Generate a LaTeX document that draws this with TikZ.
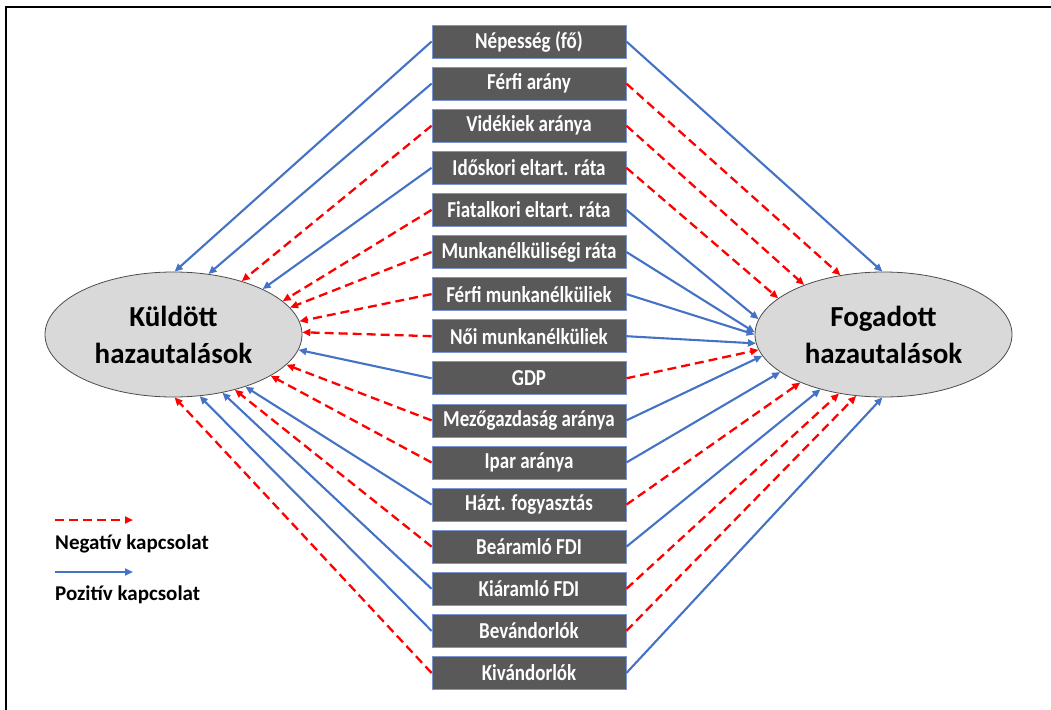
\documentclass[tikz,border=0pt]{standalone}
\usepackage{fontspec}
\setmainfont{Carlito}
\usetikzlibrary{arrows.meta,shapes.geometric}

\definecolor{posblue}{HTML}{4472C4}
\definecolor{negred}{HTML}{FF0000}
\definecolor{boxgray}{HTML}{595959}
\definecolor{boxedge}{HTML}{7B96CF}
\definecolor{ellgray}{HTML}{D9D9D9}

\newcommand{\tallbox}[1]{\scalebox{1}[1.2]{#1}}

\tikzset{
  factor/.style={rectangle, fill=boxgray, draw=boxedge, line width=0.8pt, text=white,
    minimum width=194pt, minimum height=33pt, inner sep=0pt,
    font=\bfseries\fontsize{19}{19}\selectfont},
  target/.style={ellipse, fill=ellgray, draw=black!70, line width=0.8pt, inner sep=0pt,
    minimum width=257pt, minimum height=125pt, align=center,
    font=\bfseries\fontsize{29}{37}\selectfont},
  poslink/.style={draw=posblue, line width=2.1pt, -{Triangle[length=8pt,width=7pt]}},
  neglink/.style={draw=negred, line width=2.3pt, dash pattern=on 9pt off 5pt, -{Triangle[length=8pt,width=7pt]}},
  legtext/.style={anchor=base west, inner sep=0pt, font=\bfseries\fontsize{21}{21}\selectfont}
}

\begin{document}
\begin{tikzpicture}[x=1pt, y=-1pt]
  \useasboundingbox (0,0) rectangle (1051,709);
  \draw [line width=2pt] (6,712) -- (6,7.5) -- (1054,7.5);

  \node [target] (kuld) at (173.5,334.5) {Küldött\\hazautalások};
  \node [target] (fog) at (883.5,334.5) {Fogadott\\hazautalások};

  % factors in the middle column
  \foreach \i/\lbl in {1/Népesség (fő), 2/Férfi arány, 3/Vidékiek aránya, 4/Időskori eltart. ráta,
      5/Fiatalkori eltart. ráta, 6/Munkanélküliségi ráta, 7/Férfi munkanélküliek, 8/Női munkanélküliek,
      9/GDP, 10/Mezőgazdaság aránya, 11/Ipar aránya, 12/Házt. fogyasztás,
      13/Beáramló FDI, 14/Kiáramló FDI, 15/Bevándorlók, 16/Kivándorlók}
    \node [factor] (f\i) at (529, {41.5+42.1*(\i-1)}) {\tallbox{\lbl}};

  % links to the sent remittances
  \foreach \i/\s/\a in {1/poslink/89, 2/poslink/60, 3/neglink/38, 4/poslink/27, 5/neglink/17, 6/neglink/13,
      7/neglink/6, 8/neglink/1, 9/poslink/353, 10/neglink/345, 11/neglink/337, 12/poslink/324,
      13/neglink/318, 14/poslink/310, 15/poslink/293, 16/neglink/271}
    \draw [\s] (f\i.west) -- (kuld.\a);

  % links to the received remittances
  \foreach \i/\s/\a in {1/poslink/91, 2/neglink/126, 3/neglink/148, 4/neglink/161, 5/poslink/173, 6/poslink/179,
      7/poslink/180, 8/poslink/184, 9/neglink/187, 10/poslink/190, 11/poslink/200, 12/neglink/210,
      13/poslink/221, 14/neglink/233, 15/neglink/246, 16/poslink/269}
    \draw [\s] (f\i.east) -- (fog.\a);

  % legend
  \coordinate (negA) at (55,520);
  \coordinate (negB) at (133,520);
  \coordinate (posA) at (55,572);
  \coordinate (posB) at (133,572);
  \draw [neglink] (negA) -- (negB);
  \draw [poslink] (posA) -- (posB);
  \node [legtext] (negtxt) at (55,549) {Negatív kapcsolat};
  \node [legtext] (postxt) at (55,600) {Pozitív kapcsolat};
\end{tikzpicture}
\end{document}
